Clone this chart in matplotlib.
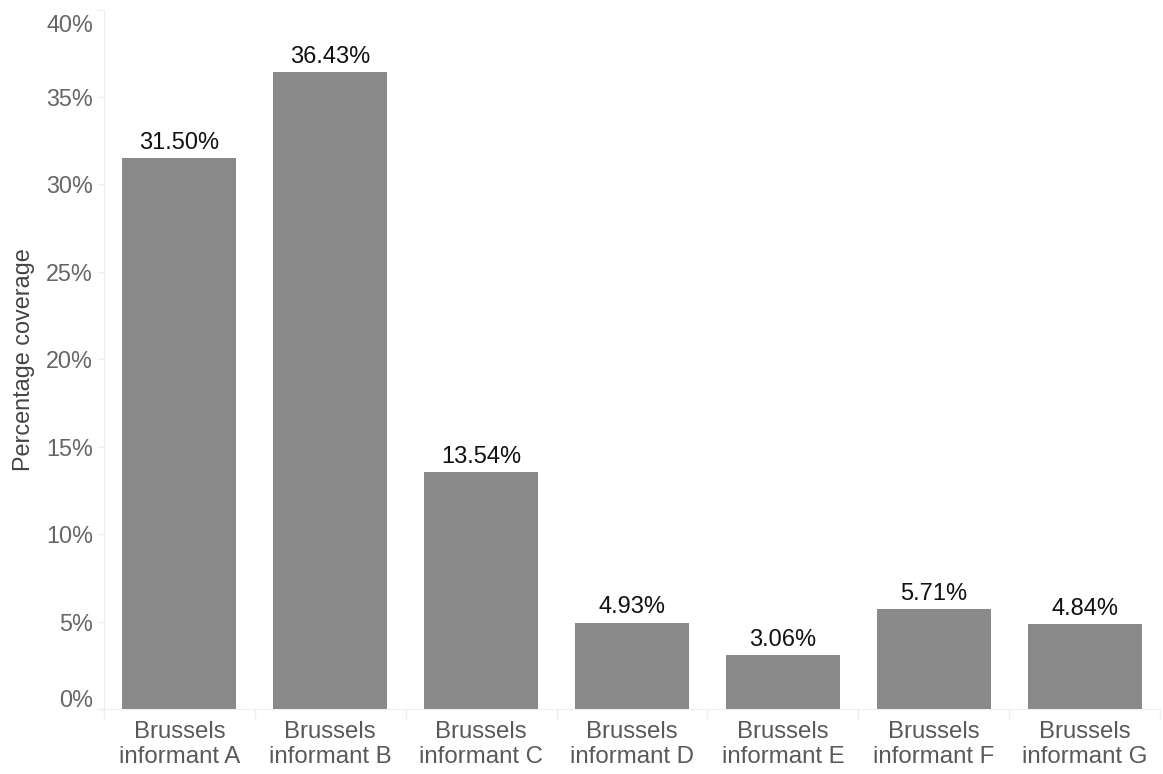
import matplotlib
matplotlib.use("Agg")
import matplotlib.pyplot as plt
import matplotlib.transforms as mtransforms
import numpy as np

categories = ["Brussels\ninformant A", "Brussels\ninformant B", "Brussels\ninformant C",
              "Brussels\ninformant D", "Brussels\ninformant E", "Brussels\ninformant F",
              "Brussels\ninformant G"]
coverage = [31.50, 36.43, 13.54, 4.93, 3.06, 5.71, 4.84]
y_ticks = [0, 5, 10, 15, 20, 25, 30, 35, 40]

plt.rcParams['font.family'] = ['Liberation Sans', 'DejaVu Sans']

fig = plt.figure(figsize=(11.63, 7.74), dpi=100)
ax = fig.add_axes([104 / 1163, 1 - 709 / 774, (1160 - 104) / 1163, (709 - 9.5) / 774])

x = np.arange(len(categories))
ax.bar(x, coverage, width=0.755, color="#898989", zorder=2)

for xi, v in zip(x, coverage):
    ax.text(xi, v + 0.25, f"{v:.2f}%", ha="center", va="bottom", fontsize=17, color="#111111")

ax.set_xlim(-0.5, len(categories) - 0.5)
ax.set_ylim(0, 40)
ax.set_yticks(y_ticks)
ax.set_yticklabels([f"{t}%" for t in y_ticks], fontsize=16.8, color="#666666")
ax.set_xticks(x)
ax.set_xticklabels(categories, fontsize=17.3, color="#595959", linespacing=1.12)
ax.set_xticks(np.arange(len(categories) + 1) - 0.5, minor=True)

ax.tick_params(axis="y", length=5, color="#eeeeee", width=1, pad=3)
ax.tick_params(axis="x", which="major", length=0, pad=9)
ax.tick_params(axis="x", which="minor", length=7, color="#eeeeee", width=1)

# keep the end labels inside the axis span
labels = ax.get_yticklabels()
labels[0].set_transform(labels[0].get_transform() +
                        mtransforms.ScaledTranslation(0, 11 / 100, fig.dpi_scale_trans))
labels[-1].set_transform(labels[-1].get_transform() +
                         mtransforms.ScaledTranslation(0, -14 / 100, fig.dpi_scale_trans))

for s in ["top", "right"]:
    ax.spines[s].set_visible(False)
ax.spines["left"].set_color("#eeeeee")
ax.spines["bottom"].set_color("#eeeeee")

ax.set_ylabel("Percentage coverage", fontsize=16.8, color="#444444", labelpad=8)

fig.savefig("out.png", dpi=100)
